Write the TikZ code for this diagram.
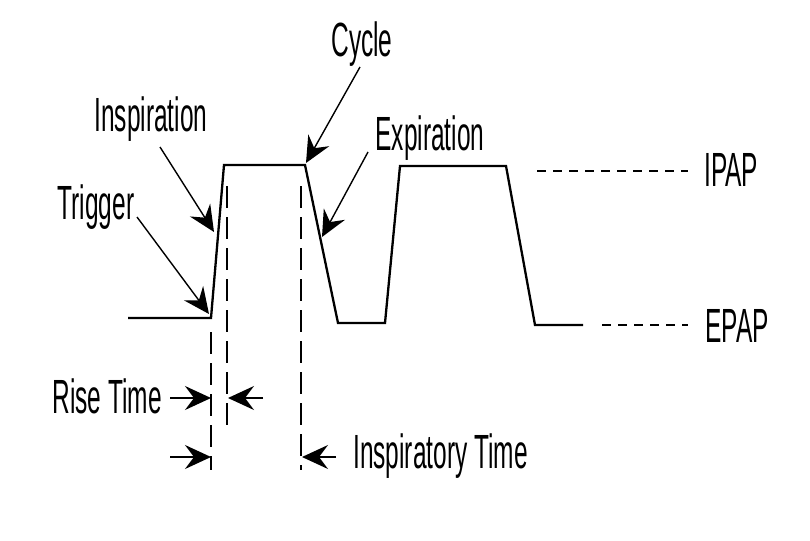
\documentclass[tikz,border=0pt]{standalone}
\usepackage{fontspec}
\newfontfamily\narrowsans{Liberation Sans}[FakeStretch=0.51]
\usetikzlibrary{arrows.meta,positioning,calc}

\begin{document}
\begin{tikzpicture}[x=1pt, y=-1pt]
  \tikzset{
    lbl/.style={font=\narrowsans\fontsize{48}{50}\selectfont, inner sep=0pt},
    wave/.style={line width=2.3pt, line join=miter},
    guide/.style={line width=1.6pt, dash pattern=on 22pt off 9pt},
    level/.style={line width=1.6pt, dash pattern=on 9pt off 7pt},
    ptr/.style={-{Stealth[length=26pt,width=24pt,inset=9pt]}, line width=1.4pt}
  }
  \useasboundingbox (0,0) rectangle (810,540);
  % pressure waveform
  \coordinate (w0) at (128,318);
  \coordinate (trg) at (211,318);
  \coordinate (w2) at (224,165);
  \coordinate (cyc) at (305,165);
  \coordinate (w4) at (338,323);
  \coordinate (w5) at (385,323);
  \coordinate (w6) at (400,166);
  \coordinate (w7) at (506,166);
  \coordinate (w8) at (535,325);
  \coordinate (w9) at (583,325);
  \draw[wave] (w0) -- (trg) -- (w2) -- (cyc) -- (w4) -- (w5) -- (w6) -- (w7) -- (w8) -- (w9);
  % labels
  \node[lbl, anchor=base] (cycl) at (362,57) {Cycle};
  \node[lbl, anchor=base] (insp) at (151,132) {Inspiration};
  \node[lbl, anchor=base] (trig) at (96,219) {Trigger};
  \node[lbl, anchor=base] (expi) at (430,150) {Expiration};
  \node[lbl, anchor=base west] (ipap) at (704,186) {IPAP};
  \node[lbl, anchor=base west] (epap) at (705,342) {EPAP};
  \node[lbl, anchor=base east] (rise) at (162,413) {Rise Time};
  \node[lbl, anchor=base west] (itime) at (353,468) {Inspiratory Time};
  % pointers onto the waveform
  \coordinate (cycT) at (360,67);
  \coordinate (cycH) at (306,163);
  \coordinate (inspT) at (160,147);
  \coordinate (inspH) at (214,232);
  \coordinate (trigT) at (137,217);
  \coordinate (trigH) at (209,314);
  \coordinate (expiT) at (368,152);
  \coordinate (expiH) at (322,237);
  \draw[ptr] (cycT) -- (cycH);
  \draw[ptr] (inspT) -- (inspH);
  \draw[ptr] (trigT) -- (trigH);
  \draw[ptr] (expiT) -- (expiH);
  % level lines
  \coordinate (ipapA) at (537,171);
  \coordinate (epapA) at (602,325);
  \draw[level] (ipapA) -- ($(ipap.west |- ipapA)+(-16,0)$);
  \draw[level] (epapA) -- ($(epap.west |- epapA)+(-17,0)$);
  % time markers
  \coordinate (d1a) at (211,332);
  \coordinate (d1b) at (211,470);
  \coordinate (d2a) at (227,186);
  \coordinate (d2b) at (227,430);
  \coordinate (d3a) at (301,186);
  \coordinate (d3b) at (301,470);
  \draw[guide] (d1a) -- (d1b);
  \draw[guide] (d2a) -- (d2b);
  \draw[guide] (d3a) -- (d3b);
  \draw[ptr] ($(rise.base east)+(8,-15)$) coordinate (r1) -- (d1a |- r1);
  \draw[ptr] (263,398) coordinate (r2) -- ($(d2a |- r2)+(1,0)$);
  \draw[ptr] (170,457) coordinate (t1) -- (d1a |- t1);
  \draw[ptr] ($(itime.base west)+(-17,-11)$) coordinate (t2) -- ($(d3a |- t2)+(1,0)$);
\end{tikzpicture}
\end{document}
